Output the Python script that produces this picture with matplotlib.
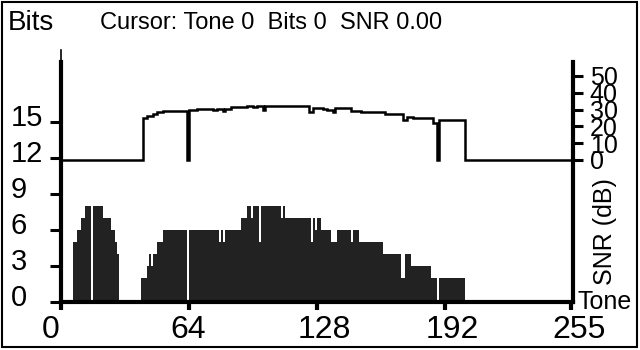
import numpy as np
import matplotlib
matplotlib.use('Agg')
import matplotlib.pyplot as plt
from matplotlib import transforms
from matplotlib.patches import Rectangle

plt.rcParams['font.family'] = ['Liberation Sans', 'DejaVu Sans']

# bits per tone, stored as runs: first tone, last tone, bits
bit_first = [6, 8, 10, 12, 16, 21, 25, 27, 28,
             40, 43, 44, 45, 46, 48, 51, 64, 79, 80, 81, 82, 90, 93, 95, 96,
             99, 100, 110, 111, 112, 125, 126, 127, 128, 130, 135, 138, 145,
             146, 149, 161, 170, 172, 175, 185, 189]
bit_last = [7, 9, 11, 14, 20, 24, 26, 27, 28,
            42, 43, 44, 45, 47, 50, 62, 78, 79, 80, 81, 89, 92, 94, 95, 98,
            99, 109, 110, 111, 124, 125, 126, 127, 129, 134, 137, 144, 145,
            148, 160, 169, 171, 174, 184, 187, 201]
bit_value = [5, 6, 7, 8, 8, 7, 6, 5, 4,
             2, 3, 4, 3, 4, 5, 6, 6, 5, 6, 5, 6, 7, 8, 7, 8,
             5, 8, 7, 8, 7, 5, 7, 6, 7, 6, 5, 6, 5,
             6, 5, 4, 2, 4, 3, 2, 2]

# SNR per tone (dB), same run layout
snr_first = [41, 43, 46, 48, 51, 64, 68, 76, 78, 81, 82, 85, 93, 96, 98, 101,
             102, 110, 124, 126, 131, 133, 136, 137, 145, 150, 162, 171, 173,
             176, 186, 189]
snr_last = [42, 45, 47, 50, 62, 67, 75, 77, 80, 81, 84, 92, 95, 97, 100, 101,
            109, 123, 125, 130, 132, 135, 136, 144, 149, 161, 170, 172, 175,
            185, 187, 201]
snr_value = [25.2, 26.4, 27.2, 28.6, 29.4, 29.6, 30.2, 29.6, 30.2, 29.4, 30.4,
             31.4, 32.0, 31.4, 32.0, 29.8, 32.4, 32.0, 28.8, 31.2, 30.2, 29.8,
             28.8, 30.8, 29.4, 28.4, 27.2, 23.8, 25.8, 24.8, 21.8, 23.8]

x_ticks = [0, 64, 128, 192, 255]
bit_ticks = [0, 3, 6, 9, 12, 15]
snr_ticks = [0, 10, 20, 30, 40, 50]

edges = np.arange(257)
bits = np.zeros(256)
for a, b, v in zip(bit_first, bit_last, bit_value):
    bits[a:b + 1] = v
snr = np.zeros(256)
for a, b, v in zip(snr_first, snr_last, snr_value):
    snr[a:b + 1] = v

fig = plt.figure(figsize=(6.4, 3.5), dpi=100)
ax = fig.add_axes([61/640, 48/350, 512/640, 240/350])
# filled stairs so neighbouring tones show no seams
ax.stairs(bits, edges, fill=True, color='#222222', linewidth=0)
ax.set_xlim(0, 256)
ax.set_ylim(0, 20)

ax2 = ax.twinx()
ax2.stairs(snr, edges, baseline=None, color='black', linewidth=1.8)
ax2.set_ylim(-84.5, 58.3)

for s in ['top', 'right']:
    ax.spines[s].set_visible(False)
for s in ['left', 'bottom']:
    ax.spines[s].set_linewidth(3)
for s in ['top', 'left', 'bottom']:
    ax2.spines[s].set_visible(False)
ax2.spines['right'].set_linewidth(3)
ax.plot([0, 0], [20, 21], color='black', linewidth=1.2, clip_on=False)

ax.set_xticks(x_ticks)
ax.set_xticklabels([str(t) for t in x_ticks])
ax.tick_params(axis='x', direction='out', length=6, width=3, pad=3.5,
               labelsize=23)
off_x = transforms.ScaledTranslation(-19/100, 0, fig.dpi_scale_trans)
for lbl in ax.get_xticklabels():
    lbl.set_horizontalalignment('left')
    lbl.set_transform(lbl.get_transform() + off_x)

ax.set_yticks(bit_ticks)
ax.tick_params(axis='y', direction='out', length=8, width=2.2, pad=0,
               labelsize=21)
off_y = transforms.ScaledTranslation(-39/100, 7/100, fig.dpi_scale_trans)
for lbl in ax.get_yticklabels():
    lbl.set_horizontalalignment('left')
    lbl.set_transform(lbl.get_transform() + off_y)

ax2.set_yticks(snr_ticks)
ax2.tick_params(axis='y', direction='out', length=7, width=2.2, pad=5,
                labelsize=18)

fig.text(8/640, 1 - 30/350, 'Bits', fontsize=20, va='baseline', ha='left')
fig.text(100/640, 1 - 29/350, 'Cursor: Tone 0  Bits 0  SNR 0.00',
         fontsize=17, va='baseline', ha='left')
fig.text(577/640, 1 - 309/350, 'Tone', fontsize=18, va='baseline', ha='left')
fig.text(605/640, 1 - 232/350, 'SNR (dB)', fontsize=18, rotation=90,
         ha='center', va='center')

fig.patches.append(Rectangle((1.5/640, 3/350), 635.5/640, 345.5/350,
                             transform=fig.transFigure, fill=False,
                             edgecolor='black', linewidth=1.5))

fig.savefig('out.png', dpi=100)
